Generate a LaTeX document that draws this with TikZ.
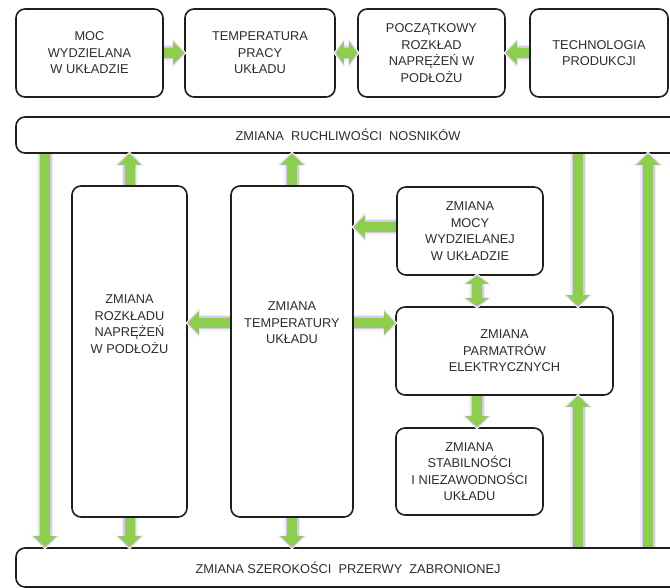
\documentclass[tikz,border=0pt]{standalone}
\usepackage{fontspec}
\setmainfont{Liberation Sans}
\usetikzlibrary{arrows.meta}
\definecolor{arrgreen}{RGB}{141,207,76}
\definecolor{glowout}{RGB}{242,236,250}
\definecolor{glowin}{RGB}{216,200,240}
\definecolor{txtgray}{RGB}{45,45,45}
\definecolor{edge}{RGB}{30,30,30}
\begin{document}
\begin{tikzpicture}[x=1pt,y=-1pt,
  box/.style={draw=edge, line width=1.6pt, rounded corners=9pt, fill=white,
    inner sep=0pt, align=center, text=txtgray,
    font=\fontsize{12.8}{16.5}\selectfont},
  txt/.style={align=center, text=txtgray, inner sep=0pt,
    font=\fontsize{12.8}{16.5}\selectfont},
  tipR/.style={-{Triangle[width=12pt 1,length=6pt 0.5]}},
  tipB/.style={{Triangle[width=12pt 1,length=3pt 0.5]}-{Triangle[width=12pt 1,length=3pt 0.5]}},
  flow/.style={line width=10pt, draw=arrgreen,
    preaction={draw=glowout, line width=16pt, shorten >=-2.5pt},
    preaction={draw=glowin, line width=13pt, shorten >=-1.2pt}},
  flowB/.style={line width=10pt, draw=arrgreen,
    preaction={draw=glowout, line width=16pt, shorten >=-2.5pt, shorten <=-2.5pt},
    preaction={draw=glowin, line width=13pt, shorten >=-1.2pt, shorten <=-1.2pt}},
]
\useasboundingbox (0,0) rectangle (670,588);
\clip (0,0) rectangle (670,588);
\fill[white] (0,0) rectangle (670,588);

% top row of causes
\node[box, minimum width=147pt, minimum height=88pt] (moc) at (89.5,53)
  {MOC\\WYDZIELANA\\W UKŁADZIE};
\node[box, minimum width=150pt, minimum height=88pt] (temp) at (260,53)
  {TEMPERATURA\\PRACY\\UKŁADU};
\node[box, minimum width=147pt, minimum height=88pt] (pocz) at (431.5,53)
  {POCZĄTKOWY\\ROZKŁAD\\NAPRĘŻEŃ W\\PODŁOŻU};
\node[box, minimum width=138pt, minimum height=88pt] (tech) at (599,53)
  {TECHNOLOGIA\\PRODUKCJI};

% wide bars
\node[box, minimum width=664pt, minimum height=36pt] (ruch) at (348,135)
  {ZMIANA\ \ RUCHLIWOŚCI\ \ NOSNIKÓW};
\node[box, minimum width=664pt, minimum height=39pt] (szer) at (348,567.5)
  {ZMIANA SZEROKOŚCI\ \ PRZERWY\ \ ZABRONIONEJ};

% tall boxes
\node[box, minimum width=115pt, minimum height=331pt] (rozk) at (129.5,351.5) {};
\node[txt] (rozkt) at (129.5,324) {ZMIANA\\ROZKŁADU\\NAPRĘŻEŃ\\W PODŁOŻU};
\node[box, minimum width=122pt, minimum height=331pt] (tmp) at (292,351.5) {};
\node[txt] (tmpt) at (292,323) {ZMIANA\\TEMPERATURY\\UKŁADU};

% right column
\node[box, minimum width=146pt, minimum height=88pt] (mocy) at (470,231)
  {ZMIANA\\MOCY\\WYDZIELANEJ\\W UKŁADZIE};
\node[box, minimum width=217pt, minimum height=88pt] (par) at (504.5,351)
  {ZMIANA\\PARMATRÓW\\ELEKTRYCZNYCH};
\node[box, minimum width=147pt, minimum height=87pt] (stab) at (469.5,471.5)
  {ZMIANA\\STABILNOŚCI\\I NIEZAWODNOŚCI\\UKŁADU};

% guide positions for the connectors
\coordinate (xa) at (45,0);
\coordinate (xb) at (578,0);
\coordinate (xc) at (648,0);
\coordinate (xd) at (477,0);
\coordinate (ya) at (0,227);
\coordinate (yb) at (0,323);

% top row connectors
\draw[flow, tipR] (moc.east) -- (temp.west);
\draw[flowB, tipB] (temp.east) -- (pocz.west);
\draw[flow, tipR] (tech.west) -- (pocz.east);

% vertical connectors
\draw[flow, tipR] (ruch.south -| xa) -- (szer.north -| xa);
\draw[flow, tipR] (rozk.north) -- (rozk.north |- ruch.south);
\draw[flow, tipR] (tmp.north) -- (tmp.north |- ruch.south);
\draw[flow, tipR] (rozk.south) -- (rozk.south |- szer.north);
\draw[flow, tipR] (tmp.south) -- (tmp.south |- szer.north);
\draw[flow, tipR] (ruch.south -| xb) -- (par.north -| xb);
\draw[flow, tipR] (szer.north -| xb) -- (par.south -| xb);
\draw[flow, tipR] (szer.north -| xc) -- (ruch.south -| xc);
\draw[flowB, tipB] (mocy.south -| xd) -- (par.north -| xd);
\draw[flow, tipR] (par.south -| xd) -- (stab.north -| xd);

% horizontal connectors
\draw[flow, tipR] (mocy.west |- ya) -- (tmp.east |- ya);
\draw[flow, tipR] (tmp.west |- yb) -- (rozk.east |- yb);
\draw[flow, tipR] (tmp.east |- yb) -- (par.west |- yb);
\end{tikzpicture}
\end{document}
